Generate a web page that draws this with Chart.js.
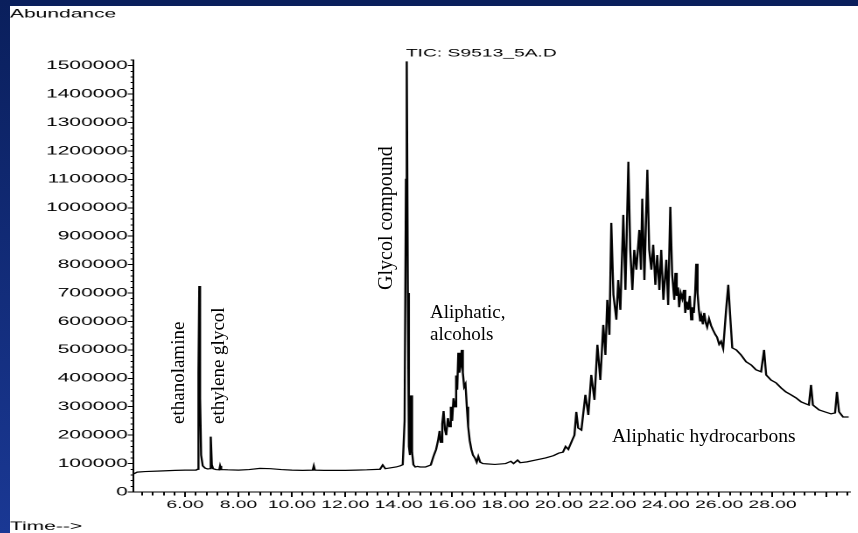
<!DOCTYPE html>
<html>
<head>
<meta charset="utf-8">
<script src="https://cdn.jsdelivr.net/npm/chart.js@4/dist/chart.umd.min.js"></script>
<style>
  html, body { margin: 0; padding: 0; }
  body { width: 858px; height: 533px; position: relative; overflow: hidden; background: #fff; }
  #topbar { position: absolute; left: 0; top: 0; width: 858px; height: 6px; background: #0a1f5c; }
  #leftbar { position: absolute; left: 0; top: 0; width: 10px; height: 533px; background: linear-gradient(#0a1f5c, #1a3894); }
  /* the chart picture is stretched sideways, like the pasted image on the slide */
  #plot { position: absolute; left: 10px; top: 6px; width: 485px; height: 527px; transform: scaleX(1.75); transform-origin: 0 0; }
  .note { position: absolute; font-family: 'Liberation Serif', 'Times New Roman', serif; font-size: 19px; line-height: 1; color: #000; white-space: nowrap; }
  .up { transform-origin: 0 0; transform: rotate(-90deg); }
</style>
</head>
<body>
<div id="topbar"></div>
<div id="leftbar"></div>
<div id="plot"><canvas id="myChart" width="485" height="527"></canvas></div>

<div class="note up" style="left:168px; top:424px;">ethanolamine</div>
<div class="note up" style="left:208px; top:424px;">ethylene glycol</div>
<div class="note up" style="left:375px; top:290px; font-size:20px;">Glycol compound</div>
<div class="note" style="left:430px; top:302px;">Aliphatic,</div>
<div class="note" style="left:430px; top:324px;">alcohols</div>
<div class="note" style="left:612px; top:426px; font-size:19.5px;">Aliphatic hydrocarbons</div>

<script>
// retention time (min)
const times = [
  4.06, 4.21, 4.50, 5.07, 5.63, 6.00, 6.41, 6.47, 6.50, 6.53, 6.56, 6.60, 6.66, 6.75, 6.85,
  6.92, 6.96, 7.00, 7.05, 7.15, 7.28, 7.31, 7.35, 7.60, 8.00, 8.40, 8.80, 9.20, 9.60, 10.00,
  10.40, 10.78, 10.82, 10.86, 11.20, 11.60, 12.00, 12.40, 12.80, 13.30, 13.40, 13.50, 13.70, 13.90, 14.05,
  14.15, 14.22, 14.27, 14.30, 14.34, 14.38, 14.42, 14.46, 14.50, 14.55, 14.62, 14.70, 14.80, 15.00, 15.20,
  15.30, 15.40, 15.48, 15.53, 15.57, 15.63, 15.68, 15.73, 15.78, 15.84, 15.90, 15.95, 16.00, 16.05, 16.10,
  16.15, 16.19, 16.23, 16.27, 16.31, 16.36, 16.40, 16.45, 16.50, 16.55, 16.60, 16.66, 16.72, 16.78, 16.85,
  16.92, 16.98, 17.05, 17.15, 17.30, 17.60, 18.00, 18.20, 18.30, 18.45, 18.55, 18.80, 19.10, 19.50, 19.80,
  20.00, 20.15, 20.25, 20.35, 20.50, 20.58, 20.65, 20.72, 20.84, 20.99, 21.10, 21.21, 21.33, 21.44, 21.55,
  21.66, 21.74, 21.81, 21.89, 21.96, 22.04, 22.15, 22.22, 22.30, 22.41, 22.49, 22.60, 22.67, 22.75, 22.82,
  22.90, 23.01, 23.07, 23.12, 23.20, 23.31, 23.38, 23.46, 23.53, 23.61, 23.68, 23.76, 23.83, 23.91, 24.02,
  24.09, 24.17, 24.24,
  24.32, 24.36, 24.41, 24.46, 24.50, 24.56, 24.62, 24.68, 24.73, 24.78, 24.84, 24.90, 24.95, 25.00, 25.05,
  25.10, 25.14, 25.19, 25.24, 25.29, 25.33, 25.39, 25.44, 25.50, 25.55, 25.62, 25.70, 25.77, 25.85, 25.92,
  26.00, 26.07, 26.15,
  26.26, 26.34, 26.41, 26.49, 26.64, 26.82, 27.01, 27.20, 27.38, 27.57,
  27.68, 27.76, 27.94, 28.13, 28.32, 28.50, 28.69, 28.88, 29.07, 29.25, 29.36, 29.44, 29.51, 29.74, 29.96,
  30.19, 30.34, 30.41, 30.49, 30.64, 30.85
];

// total ion current
const abundance = [
  63000, 70000, 72000, 74000, 76000, 77000, 77000, 80000, 420000, 725000, 330000, 130000, 92000, 84000, 81000,
  82000, 195000, 96000, 82000, 79000, 78000, 92000, 79000, 78000, 77000, 79000, 83000, 82000, 79000, 77000,
  76000, 77000, 92000, 77000, 76000, 76000, 76000, 77000, 78000, 80000, 95000, 82000, 85000, 88000, 92000,
  96000, 250000, 1100000, 1515000, 700000, 160000, 130000, 340000, 140000, 96000, 88000, 90000, 88000, 88000, 95000,
  125000, 150000, 185000, 215000, 175000, 240000, 285000, 220000, 200000, 260000, 230000, 300000, 250000, 330000, 300000,
  410000, 360000, 490000, 420000, 440000, 500000, 420000, 370000, 380000, 300000, 230000, 180000, 150000, 130000, 120000,
  105000, 125000, 105000, 100000, 99000, 97000, 100000, 108000, 100000, 112000, 103000, 106000, 112000, 120000, 128000,
  137000, 140000, 160000, 150000, 183000, 200000, 282000, 225000, 218000, 342000, 271000, 412000, 324000, 518000, 394000,
  588000, 482000, 676000, 553000, 947000, 694000, 606000, 746000, 641000, 975000, 711000, 1162000, 852000, 711000, 852000,
  782000, 922000, 782000, 1032000, 746000, 1134000, 852000, 782000, 870000, 729000, 834000, 711000, 852000, 676000, 817000,
  658000, 1003000, 764000,
  676000, 771000, 690000, 720000, 650000, 700000, 680000, 711000, 630000, 670000, 641000, 690000, 606000, 650000, 630000,
  700000, 803000, 700000, 640000, 600000, 620000, 590000, 630000, 595000, 580000, 610000, 585000, 570000, 555000, 545000,
  520000, 530000, 505000,
  641000, 729000, 623000, 507000, 500000, 482000, 458000, 447000, 430000, 423000,
  500000, 412000, 394000, 384000, 366000, 352000, 342000, 331000, 317000, 310000, 306000, 377000, 306000, 289000, 282000,
  275000, 278000, 352000, 282000, 264000, 264000
];

// labelled ticks
const timeLabels = [6, 8, 10, 12, 14, 16, 18, 20, 22, 24, 26, 28];
const abundanceStep = 100000;
const timeStep = 2;

const sansFont = "'Liberation Sans', Arial, sans-serif";

function isMultiple(v, step) {
  return Math.abs(v / step - Math.round(v / step)) < 1e-6;
}

// axis captions that belong to the picture
const captions = {
  id: 'captions',
  afterDraw(chart) {
    const ctx = chart.ctx;
    const xs = chart.scales.x;
    ctx.save();
    ctx.fillStyle = '#000';
    ctx.textAlign = 'left';
    ctx.textBaseline = 'alphabetic';
    ctx.font = '12px ' + sansFont;
    ctx.fillText('Abundance', 0, 11.5);
    ctx.fillText('Time-->', 0, 524);
    ctx.font = '11px ' + sansFont;
    ctx.fillText('TIC: S9513_5A.D', xs.getPixelForValue(14.3) - 0.5, 50.7);
    ctx.restore();
  }
};

const config = {
  type: 'line',
  data: {
    datasets: [{
      label: 'TIC',
      data: times.map((t, i) => ({ x: t, y: abundance[i] })),
      borderColor: '#000',
      borderWidth: 1.2,
      pointRadius: 0,
      tension: 0,
      fill: false
    }]
  },
  options: {
    responsive: false,
    animation: false,
    devicePixelRatio: 2,
    layout: { padding: { top: 54, right: 5, bottom: 19, left: 0 } },
    plugins: {
      legend: { display: false },
      tooltip: { enabled: false }
    },
    scales: {
      x: {
        type: 'linear',
        min: 4.05,
        max: 30.9,
        afterFit(scale) { scale.height = 22; },
        border: { display: true, color: '#000', width: 1 },
        grid: {
          drawOnChartArea: false,
          tickLength: 5,
          tickColor: '#000',
          tickWidth: 1,
          tickBorderDash: (c) => isMultiple(c.tick.value, timeStep) ? [] : [3, 20]
        },
        ticks: {
          stepSize: 0.4,
          maxTicksLimit: 1000,
          includeBounds: false,
          autoSkip: false,
          maxRotation: 0,
          minRotation: 0,
          padding: 1.5,
          color: '#000',
          font: { family: sansFont, size: 11 },
          callback: (v) => timeLabels.some(l => Math.abs(l - v) < 1e-6) ? Number(v).toFixed(2) : ''
        }
      },
      y: {
        min: 0,
        max: 1520000,
        afterFit(scale) { scale.width = 70.3; },
        border: { display: true, color: '#000', width: 1 },
        grid: {
          drawOnChartArea: false,
          tickLength: 3,
          tickColor: '#000',
          tickWidth: 1,
          tickBorderDash: (c) => isMultiple(c.tick.value, abundanceStep) ? [] : [0, 1.6, 1.4, 20]
        },
        ticks: {
          stepSize: 20000,
          maxTicksLimit: 1000,
          includeBounds: false,
          autoSkip: false,
          padding: 0,
          color: '#000',
          font: { family: sansFont, size: 12 },
          callback: (v) => isMultiple(v, abundanceStep) ? String(v) : ''
        }
      }
    }
  },
  plugins: [captions]
};

const myChart = new Chart(document.getElementById('myChart'), config);
</script>
</body>
</html>
